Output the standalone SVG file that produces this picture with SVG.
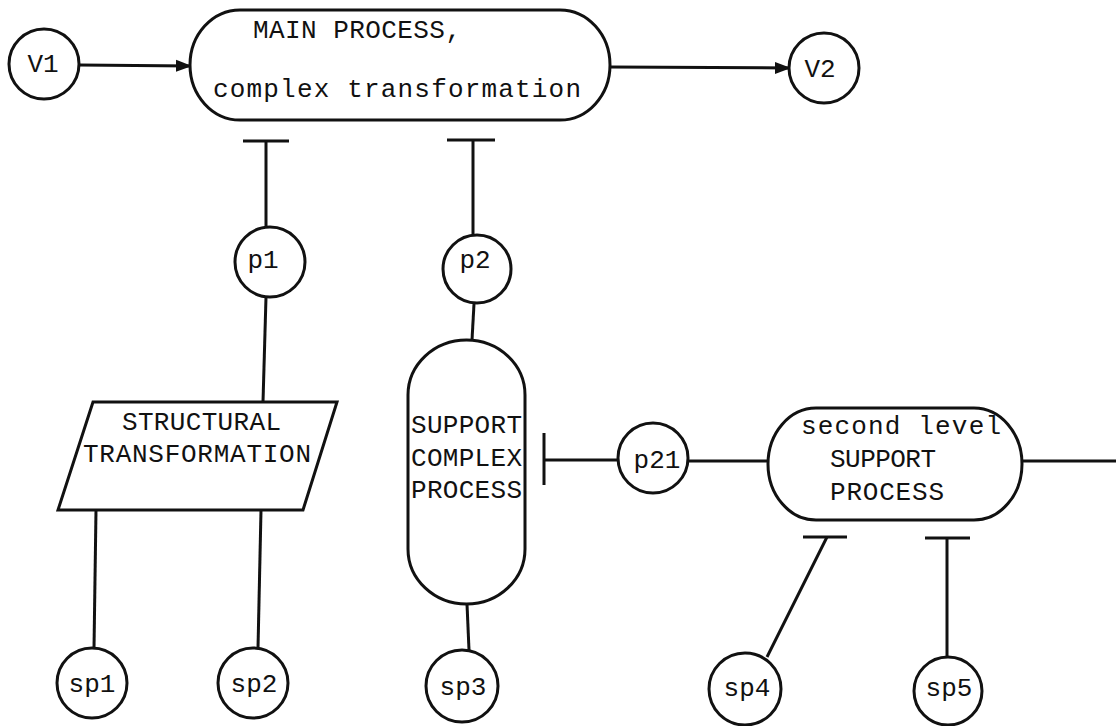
<svg xmlns="http://www.w3.org/2000/svg" width="1116" height="726" viewBox="0 0 1116 726">
  <style>
    .ln { stroke: #111; stroke-width: 3; fill: none; stroke-linecap: butt; }
    .shape { stroke: #111; stroke-width: 3; fill: #fff; }
    .lbl { font-size: 26px; fill: #111; }
    .mid { text-anchor: middle; }
  </style>
  <defs>
    <marker id="arrow" markerUnits="userSpaceOnUse" viewBox="0 0 16 14" markerWidth="16" markerHeight="14" refX="15" refY="7" orient="auto">
      <path d="M0,1 L16,7 L0,13 z" fill="#111"/>
    </marker>
  </defs>

  <rect width="1116" height="726" fill="#fff"/>

  <!-- connectors -->
  <g id="connectors">
    <line class="ln" x1="79" y1="65" x2="191" y2="66" marker-end="url(#arrow)"/>
    <line class="ln" x1="610" y1="67" x2="790" y2="68" marker-end="url(#arrow)"/>

    <line class="ln" x1="266" y1="227" x2="266" y2="141"/>
    <line class="ln" x1="243" y1="141" x2="289" y2="141"/>
    <line class="ln" x1="473" y1="235" x2="473" y2="140"/>
    <line class="ln" x1="447" y1="140" x2="495" y2="140"/>

    <line class="ln" x1="266" y1="297" x2="263" y2="402"/>
    <line class="ln" x1="474" y1="304" x2="472" y2="340"/>

    <line class="ln" x1="96" y1="510" x2="94" y2="648"/>
    <line class="ln" x1="261" y1="510" x2="258" y2="648"/>
    <line class="ln" x1="467" y1="604" x2="469" y2="650"/>

    <line class="ln" x1="619" y1="460" x2="544" y2="460"/>
    <line class="ln" x1="544" y1="433" x2="544" y2="485"/>
    <line class="ln" x1="688" y1="461" x2="769" y2="461"/>
    <line class="ln" x1="1022" y1="461" x2="1116" y2="461"/>

    <line class="ln" x1="767" y1="657" x2="827" y2="537"/>
    <line class="ln" x1="803" y1="537" x2="847" y2="537"/>
    <line class="ln" x1="947" y1="657" x2="947" y2="538"/>
    <line class="ln" x1="925" y1="538" x2="970" y2="538"/>
  </g>

  <g font-family="Liberation Mono, Courier New, Cousine, monospace">
    <!-- value nodes -->
    <g id="V1">
      <circle class="shape" cx="44" cy="64" r="35"/>
      <text class="lbl mid" x="43" y="72">V1</text>
    </g>
    <g id="V2">
      <circle class="shape" cx="824" cy="68" r="35"/>
      <text class="lbl mid" x="820" y="77">V2</text>
    </g>

    <!-- main process -->
    <g id="main-process">
      <rect class="shape" x="190" y="10" width="420" height="110" rx="50" ry="55"/>
      <text class="lbl" x="253" y="38" textLength="208" lengthAdjust="spacing">MAIN PROCESS,</text>
      <text class="lbl" x="213" y="97" textLength="368" lengthAdjust="spacing">complex transformation</text>
    </g>

    <g id="p1">
      <circle class="shape" cx="270" cy="262" r="35"/>
      <text class="lbl mid" x="263" y="268">p1</text>
    </g>
    <g id="p2">
      <circle class="shape" cx="477" cy="269" r="34"/>
      <text class="lbl mid" x="475" y="268">p2</text>
    </g>

    <!-- structural transformation -->
    <g id="structural-transformation">
      <polygon class="shape" points="93,402 337,402 303,510 58,510"/>
      <text class="lbl" x="122" y="430" textLength="159" lengthAdjust="spacing">STRUCTURAL</text>
      <text class="lbl" x="83" y="462" textLength="228" lengthAdjust="spacing">TRANSFORMATION</text>
    </g>

    <!-- support complex process -->
    <g id="support-complex-process">
      <rect class="shape" x="408" y="340" width="117" height="264" rx="58.5" ry="55"/>
      <text class="lbl" x="411" y="433" textLength="111" lengthAdjust="spacing">SUPPORT</text>
      <text class="lbl" x="411" y="466" textLength="111" lengthAdjust="spacing">COMPLEX</text>
      <text class="lbl" x="411" y="498" textLength="111" lengthAdjust="spacing">PROCESS</text>
    </g>

    <g id="p21">
      <circle class="shape" cx="653" cy="458" r="35"/>
      <text class="lbl mid" x="657" y="468">p21</text>
    </g>

    <!-- second level support process -->
    <g id="second-level-support-process">
      <rect class="shape" x="768" y="408" width="254" height="112" rx="48" ry="56"/>
      <text class="lbl" x="801" y="434" textLength="200" lengthAdjust="spacing">second level</text>
      <text class="lbl" x="830" y="467" textLength="106" lengthAdjust="spacing">SUPPORT</text>
      <text class="lbl" x="830" y="500" textLength="114" lengthAdjust="spacing">PROCESS</text>
    </g>

    <!-- sub-process inputs -->
    <g id="sp1">
      <circle class="shape" cx="92" cy="683" r="35"/>
      <text class="lbl mid" x="92" y="692">sp1</text>
    </g>
    <g id="sp2">
      <circle class="shape" cx="253" cy="683" r="35"/>
      <text class="lbl mid" x="254" y="692">sp2</text>
    </g>
    <g id="sp3">
      <circle class="shape" cx="462" cy="686" r="36"/>
      <text class="lbl mid" x="463" y="695">sp3</text>
    </g>
    <g id="sp4">
      <circle class="shape" cx="745" cy="689" r="36"/>
      <text class="lbl mid" x="747" y="696">sp4</text>
    </g>
    <g id="sp5">
      <circle class="shape" cx="948" cy="691" r="34"/>
      <text class="lbl mid" x="949" y="696">sp5</text>
    </g>
  </g>
</svg>
